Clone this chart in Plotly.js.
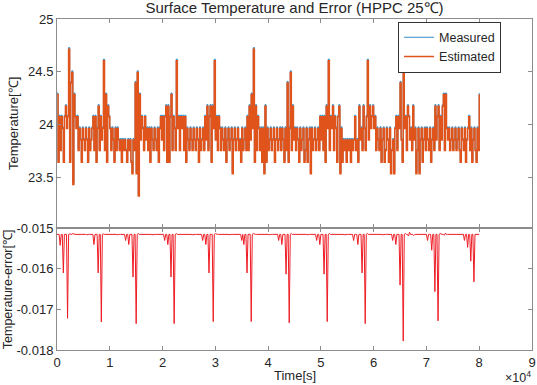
<!DOCTYPE html>
<html>
<head>
<meta charset="utf-8">
<script src="https://cdn.plot.ly/plotly-3.0.1.min.js"></script>
<style>html,body{margin:0;padding:0;background:#fff;}#chart{width:537px;height:385px;}</style>
</head>
<body>
<div id="chart"></div>
<script>
// ---- data (sample interval 200 s) ----
const sampleStep = 200; // seconds between samples

const measured = [
24.30,23.66,24.09,23.77,24.09,23.98,23.66,24.09,24.19,23.98,
24.09,24.73,23.66,24.41,24.51,23.45,24.30,24.09,
23.98,24.09,23.77,23.98,23.87,23.66,23.98,23.87,23.77,23.98,23.87,23.66,23.98,23.77,23.87,23.98,24.09,23.77,24.09,23.66,23.98,24.19,23.77,24.09,23.87,
23.98,24.62,23.77,24.30,23.66,24.19,
24.09,23.98,23.77,23.98,23.87,23.66,23.98,23.77,23.98,23.87,23.77,23.87,23.66,23.87,23.77,23.87,23.77,23.66,23.87,23.77,23.87,23.66,23.55,23.87,
23.77,24.41,23.55,24.51,23.34,24.30,23.87,
24.09,23.98,23.77,24.09,23.87,23.98,23.77,23.98,23.66,23.98,23.87,23.77,23.98,23.87,23.77,23.98,23.66,23.98,24.09,23.87,24.09,23.77,24.09,24.19,23.66,24.19,23.66,24.09,24.30,23.77,24.09,23.98,23.77,
24.62,23.98,24.09,23.77,
24.09,23.98,24.09,23.77,24.09,23.66,23.98,23.87,23.77,23.98,23.87,23.77,23.98,23.87,23.77,23.98,23.87,23.66,23.98,23.77,23.87,23.98,23.77,24.09,23.87,24.19,23.77,24.09,24.19,23.66,24.19,23.98,24.62,23.87,24.09,23.77,24.09,
23.98,23.77,23.98,23.87,23.77,23.98,23.66,23.87,23.98,23.77,23.87,23.98,23.55,23.87,23.98,23.77,23.87,23.98,23.77,23.87,23.66,23.98,23.77,23.87,23.98,23.77,24.09,23.77,24.19,23.87,24.30,23.98,24.73,23.66,24.19,23.77,24.09,
23.98,23.77,23.98,23.66,23.98,23.55,24.19,23.66,23.98,23.77,23.87,23.98,23.77,23.87,23.98,23.66,23.87,23.98,23.77,23.87,23.98,23.77,23.98,23.87,23.66,23.98,23.77,24.41,23.66,23.98,24.51,23.77,24.19,23.87,
23.98,23.77,23.98,23.87,23.66,23.98,23.77,23.87,23.98,23.66,23.77,23.98,23.66,23.87,23.98,23.55,23.98,23.77,23.87,23.98,23.77,23.87,23.98,23.77,24.09,23.87,24.09,23.77,24.09,23.66,24.19,23.98,24.62,23.77,24.09,
23.98,24.19,23.77,24.09,23.98,23.66,24.09,24.19,23.55,23.98,23.66,23.87,23.77,23.87,23.66,23.87,23.77,23.87,23.66,23.87,23.77,23.87,24.09,23.77,23.87,23.66,24.19,23.87,23.98,23.77,24.19,23.98,23.77,24.09,24.62,23.87,24.19,23.98,
24.09,24.19,23.98,24.09,23.77,23.98,23.87,23.77,23.98,23.66,23.87,23.98,23.66,23.77,23.98,23.87,23.66,23.98,23.55,23.77,23.87,23.55,23.98,24.09,23.77,24.09,23.98,24.41,23.87,23.66,24.51,23.98,24.09,23.77,24.19,24.09,23.87,23.98,23.77,24.19,23.87,23.98,23.55,23.77,23.98,23.55,23.87,23.98,23.66,23.87,23.98,23.77,23.98,23.87,23.77,23.98,23.66,23.87,23.98,23.77,24.19,23.87,24.09,24.19,23.77,24.09,23.87,24.19,24.30,23.77,24.30,23.98,23.87,
23.98,23.77,23.87,23.98,23.77,23.87,23.98,23.77,23.87,23.98,23.77,23.66,23.98,23.87,23.77,23.98,23.66,23.87,23.98,24.09,23.77,23.98,23.66,23.87,23.98,23.77,23.66,23.98,23.77,24.30
];

const estimated = [
24.285,23.645,24.075,23.755,24.075,23.965,23.645,24.075,24.175,23.965,
24.075,24.715,23.645,24.395,24.495,23.435,24.285,24.075,
23.965,24.075,23.755,23.965,23.855,23.645,23.965,23.855,23.755,23.965,23.855,23.645,23.965,23.755,23.855,23.965,24.075,23.755,24.075,23.645,23.965,24.175,23.755,24.075,23.855,
23.965,24.605,23.755,24.285,23.645,24.175,
24.075,23.965,23.755,23.965,23.855,23.645,23.965,23.755,23.965,23.855,23.755,23.855,23.645,23.855,23.755,23.855,23.755,23.645,23.855,23.755,23.855,23.645,23.535,23.855,
23.755,24.395,23.535,24.495,23.325,24.285,23.855,
24.075,23.965,23.755,24.075,23.855,23.965,23.755,23.965,23.645,23.965,23.855,23.755,23.965,23.855,23.755,23.965,23.645,23.965,24.075,23.855,24.075,23.755,24.075,24.175,23.645,24.175,23.645,24.075,24.285,23.755,24.075,23.965,23.755,
24.605,23.965,24.075,23.755,
24.075,23.965,24.075,23.755,24.075,23.645,23.965,23.855,23.755,23.965,23.855,23.755,23.965,23.855,23.755,23.965,23.855,23.645,23.965,23.755,23.855,23.965,23.755,24.075,23.855,24.175,23.755,24.075,24.175,23.645,24.175,23.965,24.605,23.855,24.075,23.755,24.075,
23.965,23.755,23.965,23.855,23.755,23.965,23.645,23.855,23.965,23.755,23.855,23.965,23.535,23.855,23.965,23.755,23.855,23.965,23.755,23.855,23.645,23.965,23.755,23.855,23.965,23.755,24.075,23.755,24.175,23.855,24.285,23.965,24.715,23.645,24.175,23.755,24.075,
23.965,23.755,23.965,23.645,23.965,23.535,24.175,23.645,23.965,23.755,23.855,23.965,23.755,23.855,23.965,23.645,23.855,23.965,23.755,23.855,23.965,23.755,23.965,23.855,23.645,23.965,23.755,24.395,23.645,23.965,24.495,23.755,24.175,23.855,
23.965,23.755,23.965,23.855,23.645,23.965,23.755,23.855,23.965,23.645,23.755,23.965,23.645,23.855,23.965,23.535,23.965,23.755,23.855,23.965,23.755,23.855,23.965,23.755,24.075,23.855,24.075,23.755,24.075,23.645,24.175,23.965,24.605,23.755,24.075,
23.965,24.175,23.755,24.075,23.965,23.645,24.075,24.175,23.535,23.965,23.645,23.855,23.755,23.855,23.645,23.855,23.755,23.855,23.645,23.855,23.755,23.855,24.075,23.755,23.855,23.645,24.175,23.855,23.965,23.755,24.175,23.965,23.755,24.075,24.605,23.855,24.175,23.965,
24.075,24.175,23.965,24.075,23.755,23.965,23.855,23.755,23.965,23.645,23.855,23.965,23.645,23.755,23.965,23.855,23.645,23.965,23.535,23.755,23.855,23.535,23.965,24.075,23.755,24.075,23.965,24.395,23.855,23.645,24.495,23.965,24.075,23.755,24.175,24.075,23.855,23.965,23.755,24.175,23.855,23.965,23.535,23.755,23.965,23.535,23.855,23.965,23.645,23.855,23.965,23.755,23.965,23.855,23.755,23.965,23.645,23.855,23.965,23.755,24.175,23.855,24.075,24.175,23.755,24.075,23.855,24.175,24.285,23.755,24.285,23.965,23.855,
23.965,23.755,23.855,23.965,23.755,23.855,23.965,23.755,23.855,23.965,23.755,23.645,23.965,23.855,23.755,23.965,23.645,23.855,23.965,24.075,23.755,23.965,23.645,23.855,23.965,23.755,23.645,23.965,23.755,24.285
];

const tempError = [
-0.01515,-0.01515,-0.01515,-0.01542,-0.01515,-0.01515,-0.01610,-0.01515,-0.01515,-0.01515,
-0.01722,-0.01515,-0.01514,-0.01515,-0.01515,-0.01513,-0.01515,-0.01515,-0.01515,-0.01515,
-0.01515,-0.01515,-0.01514,-0.01515,-0.01515,-0.01515,-0.01515,-0.01515,-0.01516,-0.01515,
-0.01515,-0.01515,-0.01515,-0.01515,-0.01515,-0.01540,-0.01515,-0.01515,-0.01515,-0.01610,
-0.01515,-0.01515,-0.01731,-0.01515,-0.01514,-0.01515,-0.01515,-0.01515,-0.01515,-0.01515,
-0.01515,-0.01514,-0.01515,-0.01515,-0.01515,-0.01515,-0.01515,-0.01516,-0.01515,-0.01515,
-0.01515,-0.01515,-0.01515,-0.01515,-0.01515,-0.01530,-0.01515,-0.01515,-0.01540,-0.01515,
-0.01515,-0.01515,-0.01620,-0.01515,-0.01515,-0.01735,-0.01515,-0.01513,-0.01515,-0.01515,
-0.01515,-0.01515,-0.01515,-0.01514,-0.01515,-0.01515,-0.01515,-0.01515,-0.01515,-0.01515,
-0.01516,-0.01515,-0.01515,-0.01515,-0.01515,-0.01515,-0.01514,-0.01515,-0.01515,-0.01515,
-0.01515,-0.01515,-0.01530,-0.01515,-0.01515,-0.01540,-0.01515,-0.01515,-0.01620,-0.01515,
-0.01515,-0.01735,-0.01515,-0.01513,-0.01515,-0.01515,-0.01515,-0.01515,-0.01515,-0.01515,
-0.01515,-0.01514,-0.01515,-0.01515,-0.01515,-0.01515,-0.01515,-0.01515,-0.01516,-0.01515,
-0.01515,-0.01515,-0.01515,-0.01515,-0.01515,-0.01515,-0.01515,-0.01515,-0.01530,-0.01515,
-0.01515,-0.01540,-0.01515,-0.01515,-0.01610,-0.01515,-0.01515,-0.01515,-0.01730,-0.01515,
-0.01513,-0.01515,-0.01515,-0.01515,-0.01515,-0.01515,-0.01514,-0.01515,-0.01515,-0.01515,
-0.01515,-0.01515,-0.01515,-0.01516,-0.01515,-0.01515,-0.01515,-0.01515,-0.01515,-0.01515,
-0.01515,-0.01515,-0.01515,-0.01515,-0.01515,-0.01530,-0.01515,-0.01540,-0.01515,-0.01515,
-0.01610,-0.01515,-0.01515,-0.01515,-0.01730,-0.01515,-0.01513,-0.01515,-0.01515,-0.01515,
-0.01515,-0.01515,-0.01515,-0.01515,-0.01514,-0.01515,-0.01515,-0.01515,-0.01515,-0.01515,
-0.01515,-0.01516,-0.01515,-0.01515,-0.01515,-0.01515,-0.01515,-0.01515,-0.01515,-0.01515,
-0.01530,-0.01515,-0.01515,-0.01540,-0.01515,-0.01515,-0.01515,-0.01613,-0.01515,-0.01515,
-0.01733,-0.01515,-0.01513,-0.01515,-0.01515,-0.01515,-0.01515,-0.01515,-0.01515,-0.01514,
-0.01515,-0.01515,-0.01515,-0.01515,-0.01515,-0.01515,-0.01515,-0.01516,-0.01515,-0.01515,
-0.01515,-0.01515,-0.01515,-0.01515,-0.01515,-0.01515,-0.01530,-0.01515,-0.01515,-0.01540,
-0.01515,-0.01515,-0.01515,-0.01613,-0.01515,-0.01515,-0.01730,-0.01515,-0.01513,-0.01515,
-0.01515,-0.01515,-0.01515,-0.01515,-0.01515,-0.01514,-0.01515,-0.01515,-0.01515,-0.01515,
-0.01515,-0.01515,-0.01516,-0.01515,-0.01515,-0.01515,-0.01515,-0.01515,-0.01515,-0.01515,
-0.01515,-0.01530,-0.01515,-0.01515,-0.01515,-0.01540,-0.01515,-0.01515,-0.01515,-0.01610,
-0.01515,-0.01515,-0.01735,-0.01515,-0.01513,-0.01515,-0.01515,-0.01515,-0.01515,-0.01515,
-0.01515,-0.01514,-0.01515,-0.01515,-0.01515,-0.01515,-0.01515,-0.01515,-0.01516,-0.01515,
-0.01515,-0.01515,-0.01515,-0.01515,-0.01515,-0.01515,-0.01515,-0.01515,-0.01530,-0.01515,
-0.01515,-0.01540,-0.01515,-0.01515,-0.01515,-0.01640,-0.01515,-0.01515,-0.01778,-0.01515,
-0.01513,-0.01515,-0.01515,-0.01519,-0.01510,-0.01515,-0.01515,-0.01515,-0.01518,-0.01515,
-0.01515,-0.01515,-0.01515,-0.01515,-0.01515,-0.01515,-0.01515,-0.01514,-0.01515,-0.01515,
-0.01515,-0.01530,-0.01515,-0.01515,-0.01515,-0.01554,-0.01515,-0.01515,-0.01656,-0.01515,
-0.01515,-0.01728,-0.01515,-0.01513,-0.01515,-0.01515,-0.01515,-0.01517,-0.01512,-0.01515,
-0.01515,-0.01515,-0.01515,-0.01515,-0.01515,-0.01515,-0.01514,-0.01515,-0.01515,-0.01515,
-0.01515,-0.01515,-0.01515,-0.01515,-0.01515,-0.01515,-0.01530,-0.01515,-0.01515,-0.01547,
-0.01515,-0.01515,-0.01581,-0.01515,-0.01515,-0.01632,-0.01515,-0.01515,-0.01515,-0.01515,
-0.01515
];

const seriesNames = ['Measured', 'Estimated'];
const xTickVals = [0, 10000, 20000, 30000, 40000, 50000, 60000, 70000, 80000, 90000];
const xTickText = ['0', '1', '2', '3', '4', '5', '6', '7', '8', '9'];
const tempTickVals = [23.5, 24, 24.5, 25];
const tempTickText = ['23.5', '24', '24.5', '25'];
const errTickVals = [-0.018, -0.017, -0.016, -0.015];
const errTickText = ['-0.018', '-0.017', '-0.016', '-0.015'];

const timeSec = measured.map((_, i) => i * sampleStep);

// ---- styling ----
const FONT = '"Liberation Sans", Arial, Helvetica, sans-serif';
const TXT = '#262626';
const AX = '#8c8c8c';

const traces = [
  { x: timeSec, y: measured, name: seriesNames[0], type: 'scatter', mode: 'lines',
    xaxis: 'x2', yaxis: 'y2', line: { color: '#0072BD', width: 0.8, shape: 'hv' } },
  { x: timeSec, y: estimated, name: seriesNames[1], type: 'scatter', mode: 'lines',
    xaxis: 'x2', yaxis: 'y2', line: { color: '#E0541C', width: 1.5, shape: 'hv' } },
  { x: timeSec, y: tempError, name: 'Error', type: 'scatter', mode: 'lines',
    xaxis: 'x', yaxis: 'y', showlegend: false, line: { color: '#EE1C24', width: 1 } }
];

const axisCommon = {
  showline: true, linecolor: AX, linewidth: 1, mirror: 'allticks',
  ticks: 'inside', ticklen: 4, tickcolor: AX, tickwidth: 1,
  showgrid: false, zeroline: false,
  tickfont: { family: FONT, size: 13, color: TXT }
};

const split = 0.3677;

const layout = {
  width: 537, height: 385,
  paper_bgcolor: '#ffffff', plot_bgcolor: '#ffffff',
  margin: { l: 57, r: 5, t: 19, b: 35 },
  font: { family: FONT, color: TXT },
  title: { text: 'Surface Temperature and Error (HPPC 25℃)', font: { family: FONT, size: 15, color: TXT },
           xref: 'paper', x: 0.5, xanchor: 'center', yref: 'container', y: 0.979, yanchor: 'middle' },
  xaxis: Object.assign({}, axisCommon, { anchor: 'y', domain: [0, 1], range: [0, 90000],
           tickmode: 'array', tickvals: xTickVals, ticktext: xTickText }),
  yaxis: Object.assign({}, axisCommon, { anchor: 'x', domain: [0, split], range: [-0.018, -0.015],
           tickmode: 'array', tickvals: errTickVals, ticktext: errTickText }),
  xaxis2: Object.assign({}, axisCommon, { anchor: 'y2', domain: [0, 1], range: [0, 90000],
           tickmode: 'array', tickvals: xTickVals, showticklabels: false }),
  yaxis2: Object.assign({}, axisCommon, { anchor: 'x2', domain: [split, 1], range: [23.02, 25],
           tickmode: 'array', tickvals: tempTickVals, ticktext: tempTickText }),
  showlegend: true,
  legend: { x: 0.718, y: 0.992, xanchor: 'left', yanchor: 'top', xref: 'paper', yref: 'paper',
            bgcolor: '#ffffff', bordercolor: '#333333', borderwidth: 1,
            font: { family: FONT, size: 12.5, color: TXT }, tracegroupgap: 0 },
  annotations: [
    { text: 'Temperature[℃]', xref: 'paper', yref: 'paper', x: -0.092, y: (split + 1) / 2,
      xanchor: 'center', yanchor: 'middle', textangle: -90, showarrow: false,
      font: { family: FONT, size: 13, color: TXT } },
    { text: 'Temperature-error[℃]', xref: 'paper', yref: 'paper', x: -0.103, y: split / 2,
      xanchor: 'center', yanchor: 'middle', textangle: -90, showarrow: false,
      font: { family: FONT, size: 12.5, color: TXT } },
    { text: 'Time[s]', xref: 'paper', yref: 'paper', x: 0.5, y: -0.076,
      xanchor: 'center', yanchor: 'middle', showarrow: false,
      font: { family: FONT, size: 13, color: TXT } },
    { text: '×10<sup>4</sup>', xref: 'paper', yref: 'paper', x: 1.003, y: -0.082,
      xanchor: 'right', yanchor: 'middle', showarrow: false,
      font: { family: FONT, size: 12.5, color: TXT } }
  ]
};

Plotly.newPlot('chart', traces, layout, { staticPlot: true, displayModeBar: false });
</script>
</body>
</html>
